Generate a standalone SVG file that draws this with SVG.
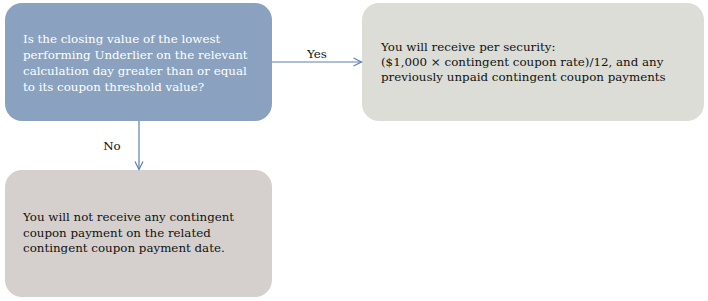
<svg xmlns="http://www.w3.org/2000/svg" width="708" height="301" viewBox="0 0 708 301">
<style>
.t{font-family:"DejaVu Serif","Liberation Serif",serif;font-size:11.85px;}
.w{fill:#ffffff;}
.d{fill:#111111;}
.c{stroke:#5b7fb3;stroke-width:1.2;fill:none;}
</style>
<defs>
<marker id="ah" viewBox="0 0 10 10" refX="9" refY="5" markerWidth="10" markerHeight="10" markerUnits="userSpaceOnUse" orient="auto">
<path d="M1,1 L9,5 L1,9" fill="none" stroke="#5b7fb3" stroke-width="1.2"/>
</marker>
</defs>
<rect width="708" height="301" fill="#ffffff"/>
<g id="q">
<rect x="5" y="3" width="267" height="118" rx="17" fill="#8aa2c0"/>
<text class="t w" x="23" y="43">Is the closing value of the lowest</text>
<text class="t w" x="23" y="59">performing Underlier on the relevant</text>
<text class="t w" x="23" y="75">calculation day greater than or equal</text>
<text class="t w" x="23" y="91">to its coupon threshold value?</text>
</g>
<g id="yes">
<rect x="362" y="3" width="342" height="118" rx="17" fill="#dcddd6"/>
<text class="t d" x="381" y="51">You will receive per security:</text>
<text class="t d" x="381" y="66">($1,000 × contingent coupon rate)/12, and any</text>
<text class="t d" x="381" y="81">previously unpaid contingent coupon payments</text>
</g>
<g id="no">
<rect x="5" y="170" width="267" height="127" rx="17" fill="#d5d0cd"/>
<text class="t d" x="23" y="221">You will not receive any contingent</text>
<text class="t d" x="23" y="236.5">coupon payment on the related</text>
<text class="t d" x="23" y="252">contingent coupon payment date.</text>
</g>
<g id="connectors">
<line class="c" x1="272" y1="62" x2="361.5" y2="62" marker-end="url(#ah)"/>
<line class="c" x1="139" y1="121" x2="139" y2="169.5" marker-end="url(#ah)"/>
<text class="t d" x="317" y="58" text-anchor="middle">Yes</text>
<text class="t d" x="112" y="150" text-anchor="middle">No</text>
</g>
</svg>
